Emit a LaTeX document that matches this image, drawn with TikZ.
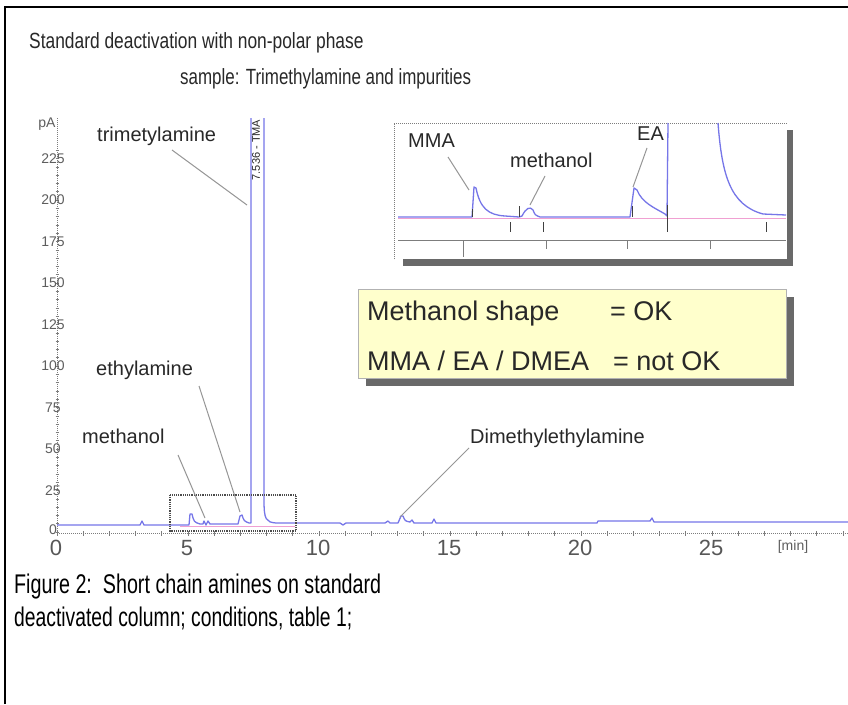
\documentclass[tikz,border=0pt]{standalone}
\usepackage{fontspec}
\setmainfont{Liberation Sans}
\usepackage{graphicx}
\usetikzlibrary{shadows}
\newcommand\narrowtext[2]{\scalebox{#1}[1]{#2}}

\definecolor{tracec}{RGB}{118,118,232}
\definecolor{pinkc}{RGB}{240,160,210}
\definecolor{leadc}{RGB}{150,150,150}
\definecolor{txtc}{RGB}{40,40,40}
\definecolor{axisc}{RGB}{125,125,125}
\definecolor{notec}{RGB}{255,255,204}
\definecolor{shadec}{RGB}{105,105,105}

\begin{document}
\begin{tikzpicture}[x=1pt,y=-1pt,
  lbl/.style={font=\fontsize{20}{24}\selectfont, text=txtc, inner sep=0pt, anchor=base west},
  notetxt/.style={font=\fontsize{27}{30}\selectfont, text=txtc, inner sep=0pt, anchor=base west},
  ylab/.style={font=\fontsize{14}{15}\selectfont, text=axisc!75!black, inner sep=0pt},
  xlab/.style={font=\fontsize{22}{24}\selectfont, text=axisc!70!black, inner sep=0pt},
  leader/.style={draw=leadc, line width=1},
  trace/.style={draw=tracec, line width=1.3, line join=round},
  pinktrace/.style={draw=pinkc, line width=0.9},
  intmark/.style={draw=black!75, line width=1},
  titletxt/.style={font=\fontsize{22}{26}\selectfont, text=txtc, inner sep=0pt, anchor=base west},
  captxt/.style={font=\fontsize{27}{30}\selectfont, text=black, inner sep=0pt, anchor=base west}]
\useasboundingbox (0,0) rectangle (848,704);
\fill[white] (0,0) rectangle (848,704);

% frame
\draw[black, line width=2] (5,704) -- (5,7) -- (848,7);

% titles
\node[titletxt] (title1) at (29,48) {\narrowtext{0.79}{Standard deactivation with non-polar phase}};
\node[titletxt] (title2) at (180,84) {\narrowtext{0.77}{sample: Trimethylamine and impurities}};

% axes of the chromatogram
\draw[axisc, densely dotted, line width=1] (57,118) -- (57,535);
\foreach \v in {0,5,...,230}
  \draw[axisc, line width=0.6] (55.5,{532-1.66*\v}) -- (58.5,{532-1.66*\v});
\draw[axisc, densely dotted, line width=1] (57,533) -- (848,533);
\foreach \t in {0,...,30}
  \draw[axisc, line width=0.8] ({57+26.2*\t},531) -- ({57+26.2*\t},536);
\node[ylab] (yunit) at (47,124) {pA};
\node[ylab] (y0) at (53,530) {0};
\foreach \v in {25,50,...,225}
  \node[ylab] (y\v) at (53,{532-1.66*\v}) {\v};
\foreach \t in {0,5,...,25}
  \node[xlab] (x\t) at ({56+26.2*\t},548) {\t};
\node[ylab, font=\fontsize{14}{15}\selectfont] (xunit) at (793,547) {[min]};

% chromatogram trace
\draw[pinktrace] (180,526) -- (295,526);
\draw[trace] (57,525) -- (140,525) -- (142,521) -- (144,525) -- (189,525) -- (190,514) -- (192,514)
  .. controls (194,522) .. (200,524) -- (203,524) -- (204,521) -- (206,525) -- (208,521) -- (210,524)
  -- (238,524) -- (240,516) -- (242,515) .. controls (244,521) .. (249,523) -- (251,523) -- (251,118);
\draw[trace] (264,118) -- (264,500) .. controls (264,520) and (266,522) .. (276,523) -- (340,523)
  -- (343,525) -- (346,523) -- (385,523) -- (388,521) -- (390,523) -- (398,523) -- (401,516)
  -- (403,516) .. controls (405,521) .. (410,522) -- (412,520) -- (414,523) -- (432,523) -- (434,519)
  -- (436,523) -- (597,523) -- (598,521) -- (650,521) -- (652,518) -- (654,522) -- (848,522);
\node[font=\fontsize{11}{12}\selectfont, text=txtc, rotate=90, inner sep=0pt] (tmatag) at (256,150) {7.536 - TMA};

% region shown enlarged
\draw[black!70, densely dotted, line width=1.2] (170,495) rectangle (296,531);

% peak labels
\node[lbl] (ltma) at (97,141) {trimetylamine};
\coordinate (ltmaA) at (172,150);
\coordinate (ptma) at (247,205);
\draw[leader] (ltmaA) -- (ptma);
\node[lbl] (lea) at (96,375) {ethylamine};
\coordinate (leaA) at (199,386);
\coordinate (pea) at (240,512);
\draw[leader] (leaA) -- (pea);
\node[lbl] (lmeoh) at (82,443) {methanol};
\coordinate (lmeohA) at (178,455);
\coordinate (pmeoh) at (205,518);
\draw[leader] (lmeohA) -- (pmeoh);
\node[lbl] (ldmea) at (470,443) {Dimethylethylamine};
\coordinate (ldmeaA) at (469,448);
\coordinate (pdmea) at (400,517);
\draw[leader] (ldmeaA) -- (pdmea);

% enlarged view
\fill[shadec] (403,130) rectangle (793,266);
\fill[white] (394,123) rectangle (787,259);
\draw[axisc, densely dotted, line width=1] (394,259) -- (394,123) -- (787,123);
\draw[axisc, line width=1] (398,240) -- (786,240);
\draw[axisc, line width=1] (463,240) -- (463,257);
\foreach \xx in {546,627,710}
  \draw[axisc, line width=1] (\xx,240) -- (\xx,249);
\draw[pinktrace] (398,218) -- (786,218);
\draw[trace] (398,217) -- (472,217) -- (474,187) -- (476,188) .. controls (480,208) and (488,215) .. (505,216)
  -- (519,217) -- (522,216) .. controls (526,208) and (530,206) .. (533,210) .. controls (535,215) .. (540,217)
  -- (630,217) -- (634,188) -- (637,190) .. controls (642,203) and (655,208) .. (665,214) -- (667,216) -- (668,123);
\draw[trace] (718,123) .. controls (722,175) and (730,205) .. (763,214) -- (786,215);
\foreach \xx/\ya/\yb in {472/209/217, 519/206/217, 632/206/217, 667/205/232, 510/222/232, 543/222/232, 766/222/232}
  \draw[intmark] (\xx,\ya) -- (\xx,\yb);
\node[lbl] (lmma) at (408,147) {MMA};
\coordinate (lmmaA) at (448,157);
\coordinate (pmma) at (469,190);
\draw[leader] (lmmaA) -- (pmma);
\node[lbl] (lmeoh2) at (510,167) {methanol};
\coordinate (lmeoh2A) at (545,176);
\coordinate (pmeoh2) at (530,205);
\draw[leader] (lmeoh2A) -- (pmeoh2);
\node[lbl] (lea2) at (637,140) {EA};
\coordinate (lea2A) at (647,148);
\coordinate (pea2) at (633,187);
\draw[leader] (lea2A) -- (pea2);

% verdict note
\node[draw=gray!60, fill=notec, line width=1, minimum width=428pt, minimum height=89pt, inner sep=0pt,
  anchor=north west, drop shadow={shadow xshift=7pt, shadow yshift=-7pt, fill=shadec, opacity=1}]
  (note) at (358,289) {};
\node[notetxt] (n1a) at (367,320) {Methanol shape};
\node[notetxt] (n1b) at (610,320) {= OK};
\node[notetxt] (n2a) at (367,370) {MMA / EA / DMEA};
\node[notetxt] (n2b) at (613,370) {= not OK};

% caption
\node[captxt] (cap1) at (14,593) {\narrowtext{0.73}{Figure 2:\ \ Short chain amines on standard}};
\node[captxt] (cap2) at (14,626) {\narrowtext{0.715}{deactivated column; conditions, table 1;}};
\end{tikzpicture}
\end{document}
